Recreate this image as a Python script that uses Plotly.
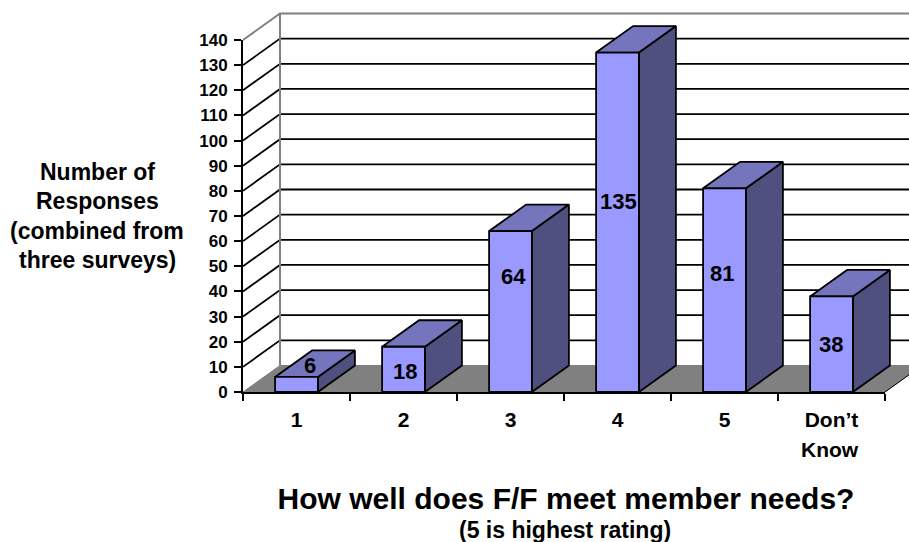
import plotly.graph_objects as go

# Survey results
categories = ["1", "2", "3", "4", "5", "Don’t"]
responses = [6, 18, 64, 135, 81, 38]
grid_values = [10, 20, 30, 40, 50, 60, 70, 80, 90, 100, 110, 120, 130]
y_ticks = [0, 10, 20, 30, 40, 50, 60, 70, 80, 90, 100, 110, 120, 130, 140]
axis_title_lines = ["Number of", "Responses", "(combined from", "three surveys)"]

# Figure and plot geometry, in pixels
W, H = 909, 542
X0_PX, X1_PX = 243, 885
Y0_PX, Y140_PX = 392, 40
PX_PER_CAT = (X1_PX - X0_PX) / 6
PX_PER_UNIT = (Y0_PX - Y140_PX) / 140

# Oblique depth of the box and of the bars, in axis units
DX, DY = 37 / PX_PER_CAT, 26.5 / PX_PER_UNIT
BAR_W = 0.4
RIGHT = 5.5

# Per-bar placement of the value labels, in axis units
label_dx = [0.126, 0.014, 0.028, 0.005, -0.023, -0.005]
label_y = [10.7, 8.3, 46, 75.8, 47, 19]

FONT = "Liberation Sans"
BLACK = "#000000"
GREY = "#808080"

fig = go.Figure()


def poly(xs, ys, fill=None, color=BLACK, width=1.8):
    fig.add_trace(go.Scatter(
        x=xs, y=ys, mode="lines", hoverinfo="skip", showlegend=False,
        line=dict(color=color, width=width),
        fill="toself" if fill else "none", fillcolor=fill,
        xaxis="x", yaxis="y",
    ))


# Floor
poly([-0.5, -0.5 + DX, RIGHT + DX, RIGHT, -0.5], [0, DY, DY, 0, 0], fill=GREY, color=GREY, width=1)
poly([RIGHT, RIGHT + DX], [0, DY], color=BLACK, width=1)

# Gridlines along the left wall and the back wall
gx, gy = [], []
for v in grid_values:
    gx += [-0.5, -0.5 + DX, RIGHT + DX, None]
    gy += [v, v + DY, v + DY, None]
poly(gx, gy)

# Wall outline
poly([-0.5, -0.5 + DX, RIGHT + DX], [140, 140 + DY, 140 + DY], color=GREY, width=2)
poly([-0.5 + DX, -0.5 + DX], [DY, 140 + DY], color=GREY, width=2)

# Side and top faces of each bar
for i, v in enumerate(responses):
    left, right = i - BAR_W / 2, i + BAR_W / 2
    poly([right, right + DX, right + DX, right, right],
         [0, DY, v + DY, v, 0], fill="#4F4F80")
    poly([left, left + DX, right + DX, right, left],
         [v, v + DY, v + DY, v, v], fill="#7575BD")

# Front faces on the visible category axis
fig.add_trace(go.Bar(
    x=categories, y=responses, width=BAR_W, xaxis="x2", yaxis="y2",
    marker=dict(color="#9999FF", line=dict(color=BLACK, width=1.8)),
    showlegend=False, hoverinfo="skip",
))


def bold(t):
    return f"<b>{t}</b>"


annotations = []
for i, v in enumerate(responses):
    annotations.append(dict(
        x=i + label_dx[i], y=label_y[i], xref="x", yref="y", text=bold(v),
        showarrow=False, font=dict(family=FONT, size=22, color=BLACK),
    ))


def paper_text(t, x_px, y_px, size):
    annotations.append(dict(
        x=x_px / W, y=1 - y_px / H, xref="paper", yref="paper", text=bold(t),
        showarrow=False, xanchor="center", yanchor="middle",
        font=dict(family=FONT, size=size, color=BLACK),
    ))


for line, y_px in zip(axis_title_lines, [172, 201, 231, 260]):
    paper_text(line, 97, y_px, 23)
paper_text("Know", 830, 449, 21)
paper_text("(5 is highest rating)", 565, 530, 23)

fig.update_layout(
    width=W, height=H,
    margin=dict(l=0, r=0, t=0, b=0, autoexpand=False),
    paper_bgcolor="white", plot_bgcolor="rgba(0,0,0,0)", showlegend=False,
    font=dict(family=FONT, color=BLACK),
    title=dict(
        text=bold("How well does F/F meet member needs?"),
        x=566 / W, y=1 - 498 / H, xanchor="center", yanchor="middle",
        font=dict(family=FONT, size=30, color=BLACK),
    ),
    annotations=annotations,
    # Full-page drawing axes sharing the scale of the visible axes
    xaxis=dict(domain=[0, 1], visible=False, fixedrange=True,
               range=[-0.5 - X0_PX / PX_PER_CAT, -0.5 + (W - X0_PX) / PX_PER_CAT]),
    yaxis=dict(domain=[0, 1], visible=False, fixedrange=True,
               range=[-(H - Y0_PX) / PX_PER_UNIT, Y0_PX / PX_PER_UNIT]),
    # Visible axes
    xaxis2=dict(
        domain=[X0_PX / W, X1_PX / W], anchor="y2", type="category",
        categoryorder="array", categoryarray=categories, range=[-0.5, 5.5],
        tickson="boundaries", ticks="outside", ticklen=7, tickwidth=1.8,
        tickcolor=BLACK, showline=True, linecolor=BLACK, linewidth=1.8,
        showgrid=False, zeroline=False, ticklabelstandoff=8,
        tickfont=dict(family=FONT, size=21, color=BLACK),
        tickmode="array", tickvals=categories,
        ticktext=[bold(c) for c in categories],
    ),
    yaxis2=dict(
        domain=[(H - Y0_PX) / H, (H - Y140_PX) / H], anchor="x2", range=[0, 140],
        tickmode="array", tickvals=y_ticks, ticktext=[bold(t) for t in y_ticks],
        ticks="outside", ticklen=7, tickwidth=1.8, tickcolor=BLACK,
        showline=True, linecolor=BLACK, linewidth=1.8,
        showgrid=False, zeroline=False, ticklabelstandoff=3,
        tickfont=dict(family=FONT, size=17, color=BLACK),
    ),
)

fig.write_html("out.html")
